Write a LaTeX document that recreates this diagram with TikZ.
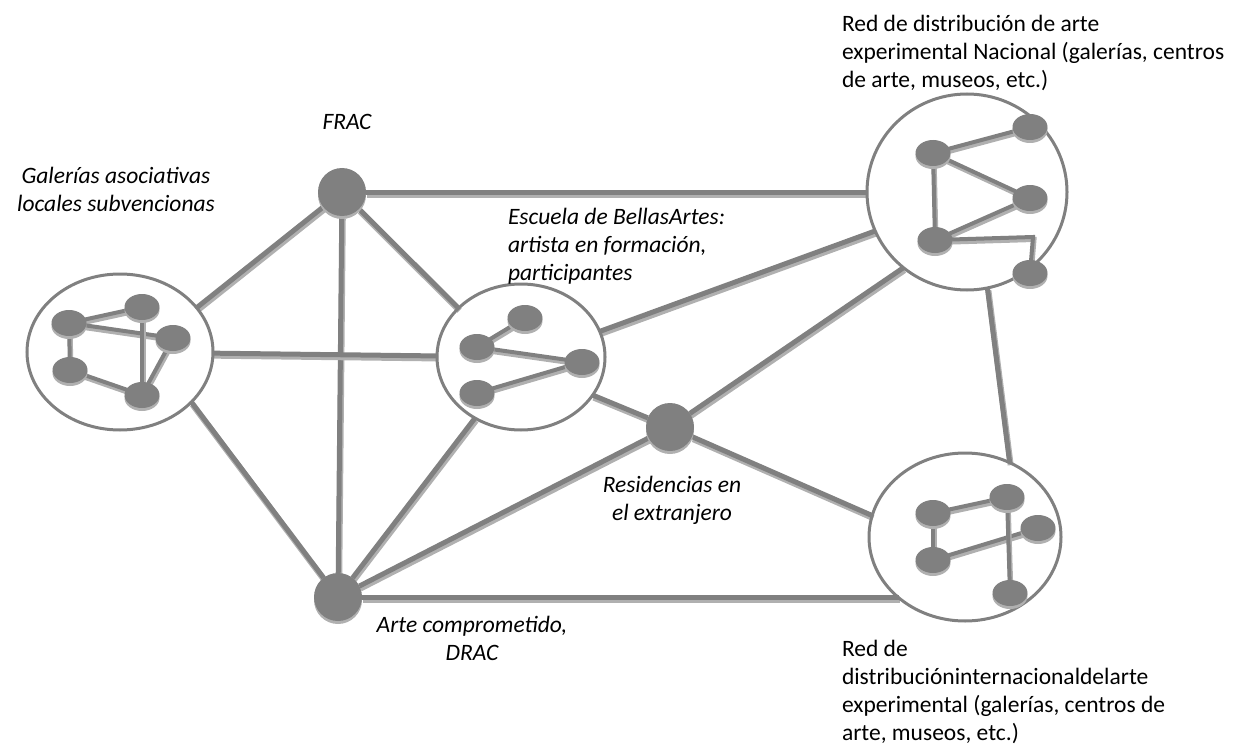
\documentclass[tikz,border=0pt]{standalone}
\usepackage{fontspec}
\setmainfont{Carlito}
\usetikzlibrary{shapes.geometric,shadows,backgrounds}
\definecolor{dotgray}{RGB}{128,128,128}
\definecolor{shgray}{RGB}{176,176,176}
\tikzset{
  x=1pt,y=-1pt,
  every node/.style={inner sep=0,outer sep=0},
  hub/.style={circle,fill=dotgray,minimum size=48,
     drop shadow={shadow xshift=0pt,shadow yshift=-3pt,fill=shgray,opacity=1}},
  dotn/.style={ellipse,fill=dotgray,minimum width=35,minimum height=26,
     drop shadow={shadow xshift=0pt,shadow yshift=-3pt,fill=shgray,opacity=1}},
  group/.style={ellipse,draw=dotgray,line width=3},
  linkshadow/.style={draw=shgray,line width=6,transform canvas={shift={(1pt,-2.5pt)}}},
  linkmain/.style={draw=dotgray,line width=5},
  inshadow/.style={draw=shgray,line width=5,transform canvas={shift={(1pt,-2.5pt)}}},
  inmain/.style={draw=dotgray,line width=4},
  lbl/.style={font=\fontsize{23.5}{28}\selectfont},
  ilbl/.style={font=\fontsize{23.5}{28}\selectfont\itshape},
}
\newcommand\link[2]{\draw[linkshadow] #1 -- #2; \draw[linkmain] #1 -- #2;}
\newcommand\inlink[2]{\draw[inshadow] #1 -- #2; \draw[inmain] #1 -- #2;}
\begin{document}
\begin{tikzpicture}
\useasboundingbox (0,0) rectangle (1237,749);
% groups
\node[group,minimum width=186,minimum height=156] (lc) at (120,352) {};
\node[group,minimum width=168,minimum height=146] (mc) at (521,357) {};
\node[group,minimum width=200,minimum height=196] (trc) at (967,192) {};
\node[group,minimum width=192,minimum height=168] (brc) at (965,537) {};
% hubs
\node[hub] (frac) at (342,192) {};
\node[hub] (res) at (670,427) {};
\node[hub] (arte) at (338,597) {};
% inner dots
\node[dotn] (a1) at (69,323) {};
\node[dotn] (a2) at (142,307) {};
\node[dotn] (a3) at (173,338) {};
\node[dotn] (a4) at (70,370) {};
\node[dotn] (a5) at (142,395) {};
\node[dotn] (b1) at (525,318) {};
\node[dotn] (b2) at (477,347) {};
\node[dotn] (b3) at (582,362) {};
\node[dotn] (b4) at (477,393) {};
\node[dotn] (c1) at (933,153) {};
\node[dotn] (c2) at (1030,127) {};
\node[dotn] (c3) at (1030,198) {};
\node[dotn] (c4) at (935,240) {};
\node[dotn] (c5) at (1030,273) {};
\coordinate (cbend) at (1033,237);
\node[dotn] (d1) at (933,513) {};
\node[dotn] (d2) at (1007,497) {};
\node[dotn] (d3) at (1038,528) {};
\node[dotn] (d4) at (933,560) {};
\node[dotn] (d5) at (1010,593) {};
\begin{scope}[on background layer]
\link{(frac)}{(trc)}
\link{(lc.30)}{(frac)}
\link{(mc.142)}{(frac)}
\link{(frac)}{(arte)}
\link{(lc)}{(mc)}
\link{(lc.325)}{(arte)}
\link{(mc.18)}{(trc.203)}
\link{(mc.332)}{(res)}
\link{(mc.233)}{(arte)}
\link{(res)}{(trc.230)}
\link{(res)}{(brc.167)}
\link{(arte)}{(res)}
\link{(arte)}{(arte -| brc.223)}
\link{(trc.282)}{(brc.59)}
\inlink{(a1.center)}{(a2.center)}
\inlink{(a1.center)}{(a3.center)}
\inlink{(a1.center)}{(a4.center)}
\inlink{(a4.center)}{(a5.center)}
\inlink{(a2.center)}{(a5.center)}
\inlink{(a3.center)}{(a5.center)}
\inlink{(b1.center)}{(b2.center)}
\inlink{(b2.center)}{(b3.center)}
\inlink{(b4.center)}{(b3.center)}
\inlink{(c1.center)}{(c2.center)}
\inlink{(c1.center)}{(c3.center)}
\inlink{(c1.center)}{(c4.center)}
\inlink{(c4.center)}{(c3.center)}
\draw[inshadow] (c4.center) -- (cbend) -- (c5.center);
\draw[inmain] (c4.center) -- (cbend) -- (c5.center);
\inlink{(d1.center)}{(d2.center)}
\inlink{(d1.center)}{(d4.center)}
\inlink{(d4.center)}{(d3.center)}
\inlink{(d2.center)}{(d5.center)}
\end{scope}
% labels (base = baseline of last line)
\node[ilbl,anchor=base] (tfrac) at (347,130) {FRAC};
\node[ilbl,anchor=base,align=center] (tgal) at (116,211) {Galerías asociativas\\locales subvencionas};
\node[ilbl,anchor=base west,align=left] (tesc) at (508,280) {Escuela de BellasArtes:\\artista en formación,\\participantes};
\node[ilbl,anchor=base,align=center] (tres) at (672,520) {Residencias en\\el extranjero};
\node[ilbl,anchor=base,align=center] (tarte) at (472,660) {Arte comprometido,\\DRAC};
\node[lbl,anchor=base west,align=left] (ttr) at (842,88) {Red de distribución de arte\\experimental Nacional (galerías, centros\\de arte, museos, etc.)};
\node[lbl,anchor=base west,align=left] (tbr) at (842,740) {Red de\\distribucióninternacionaldelarte\\experimental (galerías, centros de\\arte, museos, etc.)};
\end{tikzpicture}
\end{document}
